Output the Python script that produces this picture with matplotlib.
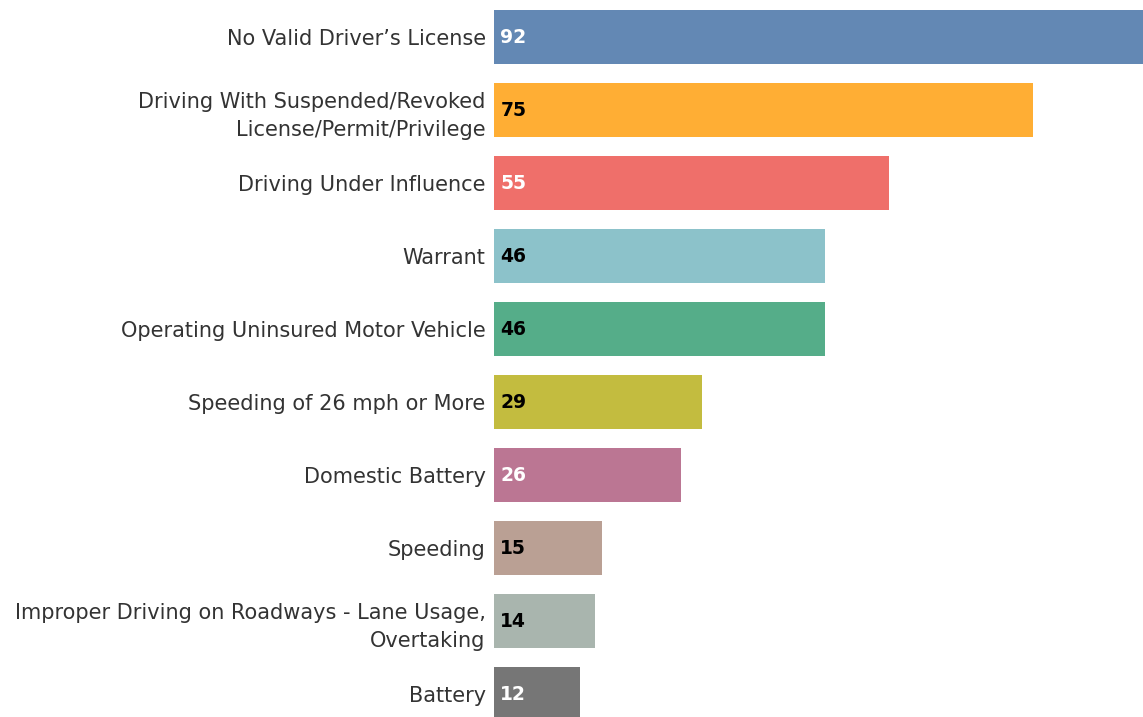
import matplotlib
matplotlib.use("Agg")
import matplotlib.pyplot as plt

categories = [
    "No Valid Driver\u2019s License",
    "Driving With Suspended/Revoked\nLicense/Permit/Privilege",
    "Driving Under Influence",
    "Warrant",
    "Operating Uninsured Motor Vehicle",
    "Speeding of 26 mph or More",
    "Domestic Battery",
    "Speeding",
    "Improper Driving on Roadways - Lane Usage,\nOvertaking",
    "Battery",
]
values = [92, 75, 55, 46, 46, 29, 26, 15, 14, 12]
colors = ["#6388b4", "#ffae34", "#ef6f6a", "#8cc2ca", "#55ad89",
          "#c3bc3f", "#bb7693", "#baa094", "#a9b5ae", "#767676"]
label_colors = ["white", "black", "white", "black", "black",
                "black", "white", "black", "black", "white"]

plt.rcParams['font.family'] = ['DejaVu Sans']

fig = plt.figure(figsize=(11.43, 7.17), dpi=100)
ax = fig.add_axes([494 / 1143, 0, 1 - 494 / 1143, 1])

y = list(range(len(categories)))
ax.barh(y, values, height=0.74, color=colors)
ax.set_xlim(0, 90.3)
ax.set_ylim(9.315, -0.507)

ax.set_yticks(y)
ax.set_yticklabels(categories, fontsize=15, color="#333333", linespacing=1.52)
ax.tick_params(axis='y', length=0, pad=6)
ax.set_xticks([])
for s in ax.spines.values():
    s.set_visible(False)

for yi, v, lc in zip(y, values, label_colors):
    ax.annotate(str(v), xy=(0, yi), xytext=(4.5, 0), textcoords="offset points",
                ha="left", va="center", fontsize=13.5, fontweight="bold", color=lc)

fig.savefig("out.png", dpi=100)
